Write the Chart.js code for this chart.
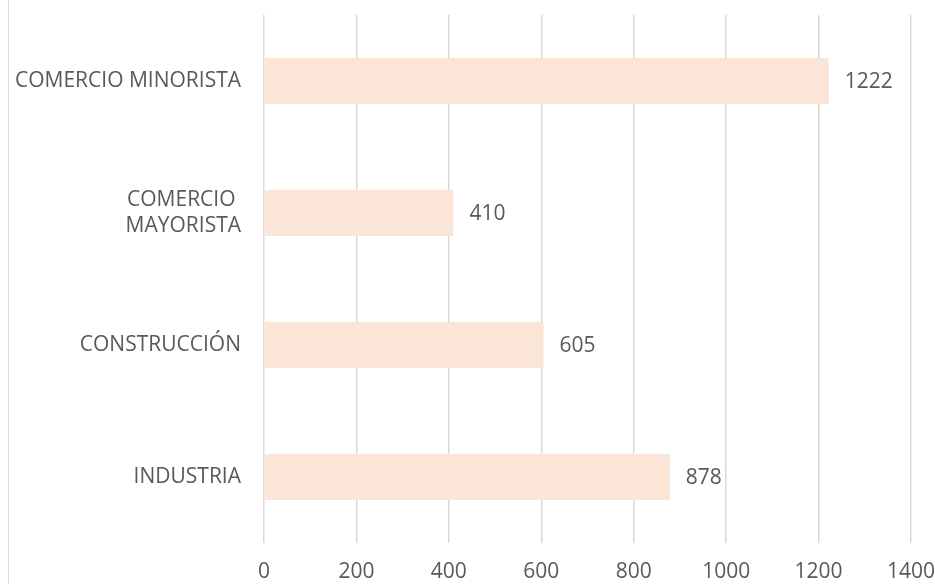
<!DOCTYPE html>
<html>
<head>
<meta charset="utf-8">
<script src="https://cdn.jsdelivr.net/npm/chart.js@4/dist/chart.umd.min.js"></script>
<style>
  html, body { margin: 0; padding: 0; background: #fff; }
  #wrap { position: relative; width: 935px; height: 584px; }
  #wrap::before { content: ''; position: absolute; left: 8px; top: 0; bottom: 0; width: 1px; background: #d9d9d9; }
</style>
</head>
<body>
<div id="wrap"><canvas id="barChart" width="935" height="584"></canvas></div>
<script>
// data
const sectors = [['COMERCIO MINORISTA'], ['COMERCIO ', 'MAYORISTA'], ['CONSTRUCCIÓN'], ['INDUSTRIA']];
const counts = [1222, 410, 605, 878];
const xMax = 1400;

const textColor = '#595959';
const fontFamily = '"Open Sans", "Liberation Sans", sans-serif';

// value labels to the right of each bar
const valueLabels = {
  id: 'valueLabels',
  afterDatasetsDraw(chart) {
    const { ctx } = chart;
    const meta = chart.getDatasetMeta(0);
    ctx.save();
    ctx.font = '21px ' + fontFamily;
    ctx.fillStyle = textColor;
    ctx.textAlign = 'left';
    ctx.textBaseline = 'middle';
    meta.data.forEach((bar, i) => {
      ctx.fillText(String(counts[i]), bar.x + 16, bar.y + 1);
    });
    ctx.restore();
  }
};

function initChart() {
  const ctx = document.getElementById('barChart');
  if (!ctx) return;

  new Chart(ctx, {
    type: 'bar',
    data: {
      labels: sectors,
      datasets: [{
        data: counts,
        backgroundColor: '#fbe5d6',
        borderWidth: 0,
        categoryPercentage: 1,
        barPercentage: 0.35
      }]
    },
    options: {
      indexAxis: 'y',
      responsive: false,
      animation: false,
      layout: { padding: { top: 15, right: 24, bottom: 0, left: 0 } },
      plugins: {
        legend: { display: false },
        tooltip: { enabled: false }
      },
      scales: {
        x: {
          min: 0,
          max: xMax,
          ticks: {
            stepSize: 200,
            color: textColor,
            font: { family: fontFamily, size: 21 },
            padding: 16,
            maxRotation: 0,
            callback: v => String(v)
          },
          grid: { color: '#d9d9d9', lineWidth: 1.5, drawTicks: false },
          border: { display: false },
          afterFit: s => {
            s.height = 41;
            s.paddingLeft = 0;
            s.paddingRight = 0;
          }
        },
        y: {
          ticks: {
            color: textColor,
            font: { family: fontFamily, size: 21 },
            padding: 23
          },
          grid: { display: false, drawTicks: false },
          border: { display: false },
          afterFit: s => {
            s.width = 264;
            s.paddingTop = 0;
            s.paddingBottom = 0;
          }
        }
      }
    },
    plugins: [valueLabels]
  });
}

initChart();
</script>
</body>
</html>
